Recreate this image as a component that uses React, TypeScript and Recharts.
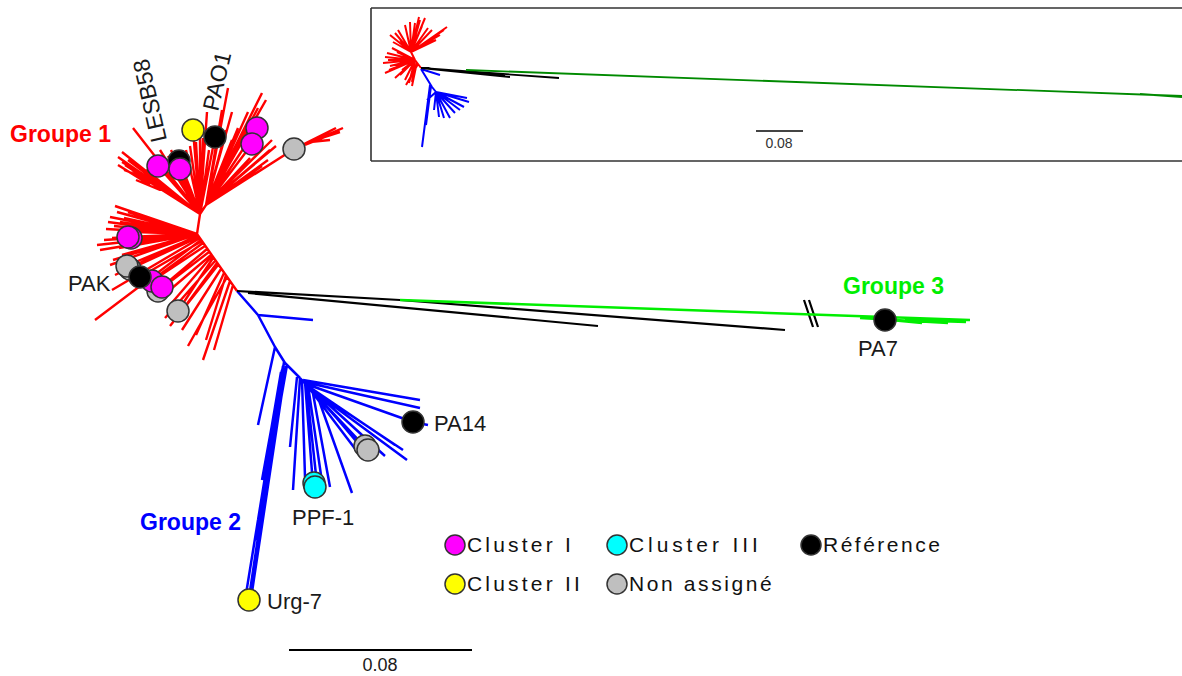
import React from 'react';
import { ComposedChart, Line, Scatter, XAxis, YAxis, Legend } from 'recharts';

const FONT = '"Liberation Sans", Arial, Helvetica, sans-serif';
const W = 1182;
const H = 676;

// ---- tree branches: [x1, y1, x2, y2] in drawing units ----
const redBranches: number[][] = [
  [237, 291, 197, 234], [197, 234, 200, 214], [200, 214, 206, 205],
  [233, 285, 214, 350], [230, 281, 203, 360], [227, 277, 188, 346], [224, 273, 196, 335],
  [221, 269, 182, 330], [218, 265, 170, 326], [215, 261, 165, 318], [213, 258, 178, 311],
  [211, 255, 158, 300], [209, 252, 158, 291], [207, 249, 162, 287], [205, 246, 152, 281],
  [203, 243, 148, 283], [202, 241, 140, 277], [201, 240, 95, 320], [200, 238, 112, 290],
  [199, 237, 130, 269], [198, 236, 126, 266], [198, 235, 115, 275], [226, 275, 206, 340],
  [217, 263, 175, 320], [212, 256, 170, 305],
  [197, 234, 128, 237], [197, 234, 113, 260], [197, 234, 97, 245], [197, 234, 115, 206],
  [197, 234, 117, 212], [197, 234, 110, 217], [197, 234, 120, 222], [197, 234, 106, 229],
  [197, 234, 125, 243], [197, 234, 100, 250], [197, 234, 118, 230], [197, 234, 130, 226],
  [197, 234, 122, 255], [197, 234, 112, 238], [197, 234, 124, 218], [197, 234, 108, 222],
  [197, 234, 114, 226], [197, 234, 104, 240], [197, 234, 119, 248], [197, 234, 135, 232],
  [197, 234, 128, 212], [197, 234, 110, 265],
  [200, 214, 118, 157], [200, 214, 122, 152], [200, 214, 128, 160], [200, 214, 140, 176],
  [200, 214, 146, 170], [200, 214, 133, 128], [200, 214, 158, 166], [200, 214, 160, 150],
  [200, 214, 168, 156], [200, 214, 174, 160], [200, 214, 179, 161], [200, 214, 180, 169],
  [200, 214, 186, 150], [200, 214, 190, 146], [200, 214, 193, 130], [200, 214, 196, 142],
  [200, 214, 200, 126], [200, 214, 207, 112], [200, 214, 215, 137], [200, 214, 209, 150],
  [200, 214, 185, 175], [200, 214, 125, 165], [200, 214, 132, 170], [200, 214, 150, 178],
  [200, 214, 164, 172], [200, 214, 171, 150], [200, 214, 203, 138],
  [150, 185, 118, 165], [160, 190, 136, 180], [135, 170, 122, 162], [145, 178, 124, 170],
  [206, 205, 228, 88], [206, 205, 262, 93], [206, 205, 266, 100], [206, 205, 257, 128],
  [206, 205, 252, 144], [206, 205, 238, 128], [206, 205, 244, 138], [206, 205, 270, 150],
  [206, 205, 276, 146], [206, 205, 268, 160], [206, 205, 262, 166], [206, 205, 294, 149],
  [206, 205, 222, 110], [206, 205, 232, 112], [206, 205, 248, 112], [206, 205, 258, 108],
  [206, 205, 232, 140], [206, 205, 226, 130], [206, 205, 250, 158], [206, 205, 272, 140],
  [294, 149, 343, 128], [300, 146, 336, 128], [310, 142, 330, 140], [305, 145, 325, 137],
  [315, 140, 340, 132],
];

const blueBranches: number[][] = [
  [237, 291, 258, 315], [258, 315, 313, 320], [258, 315, 275, 347], [275, 347, 258, 425],
  [275, 347, 285, 363], [285, 363, 300, 378],
  [284, 362, 249, 598], [283, 366, 246, 594], [286, 366, 252, 592], [282, 370, 262, 480],
  [285, 368, 258, 520], [281, 372, 266, 460], [287, 365, 256, 540],
  [297, 377, 290, 447], [300, 378, 293, 490], [302, 380, 305, 477], [305, 382, 313, 485],
  [306, 383, 317, 484], [308, 385, 322, 482], [312, 388, 330, 487], [316, 392, 352, 493],
  [300, 378, 368, 450], [302, 380, 362, 446], [306, 384, 356, 450], [308, 386, 395, 445],
  [310, 388, 403, 450], [312, 390, 407, 460], [316, 393, 385, 456], [318, 396, 372, 460],
  [303, 380, 420, 400], [304, 382, 420, 408], [306, 384, 413, 422], [413, 422, 428, 425],
];

const blackBranches: number[][] = [
  [237, 291, 400, 300], [400, 300, 785, 330], [248, 293, 598, 326],
  [804, 300, 813, 327], [809, 300, 818, 327],
];

const greenBranches: number[][] = [
  [400, 300, 970, 320], [860, 318, 948, 323], [880, 319, 922, 323], [905, 320, 966, 322],
];

// ---- inset (full tree overview) ----
const insetRed: number[][] = [
  [421, 68, 415, 60], [415, 60, 411, 52],
  [411, 52, 419, 17], [411, 52, 425, 18], [411, 52, 447, 27], [411, 52, 395, 33],
  [411, 52, 390, 35], [411, 52, 405, 25], [411, 52, 415, 23], [411, 52, 432, 30],
  [411, 52, 400, 40], [411, 52, 440, 35], [411, 52, 420, 20], [411, 52, 428, 28],
  [411, 52, 398, 30], [411, 52, 410, 22], [411, 52, 436, 40], [411, 52, 444, 30],
  [411, 52, 393, 42], [411, 52, 422, 26],
  [415, 60, 385, 57], [415, 60, 387, 53], [415, 60, 392, 48], [415, 60, 385, 73],
  [415, 60, 389, 70], [415, 60, 409, 83], [415, 60, 412, 82], [415, 60, 395, 65],
  [415, 60, 383, 63], [415, 60, 400, 75], [415, 60, 405, 80], [418, 64, 406, 85],
  [415, 60, 388, 60], [415, 60, 390, 66], [415, 60, 397, 52], [415, 60, 395, 78],
  [415, 60, 402, 70], [417, 62, 412, 86],
];
const insetBlue: number[][] = [
  [421, 69, 440, 75], [421, 69, 432, 87], [432, 87, 436, 92], [430, 85, 422, 147],
  [431, 86, 426, 125], [436, 92, 469, 102], [436, 92, 467, 98], [436, 92, 464, 107],
  [436, 92, 450, 118], [436, 92, 444, 118], [436, 92, 439, 117], [436, 92, 434, 110],
  [436, 92, 427, 100], [436, 92, 460, 110], [436, 92, 455, 113],
];
const insetBlack: number[][] = [[421, 68, 510, 77], [421, 68, 559, 78], [421, 68, 505, 76]];
const insetGreen: number[][] = [[466, 70, 1182, 96], [1140, 94, 1182, 97]];
const insetFrame: number[][] = [[371, 8, 1182, 8], [371, 8, 371, 161], [371, 161, 1182, 161]];

const scaleBars: number[][] = [[289, 650, 472, 650]];
const insetScaleBars: number[][] = [[756, 131, 803, 131]];

// ---- tips ----
const clusterI = [
  { x: 158, y: 166 }, { x: 180, y: 169 }, { x: 257, y: 128 }, { x: 252, y: 144 },
  { x: 131, y: 238 }, { x: 128, y: 237 }, { x: 152, y: 281 }, { x: 162, y: 287 },
];
const clusterII = [{ x: 193, y: 130 }, { x: 249, y: 600 }];
const clusterIII = [{ x: 314, y: 483 }, { x: 315, y: 487 }];
const referenceUnder = [{ x: 179, y: 161 }];
const reference = [{ x: 215, y: 137 }, { x: 140, y: 277 }, { x: 885, y: 320 }, { x: 413, y: 422 }];
const unassigned = [
  { x: 294, y: 149 }, { x: 130, y: 269 }, { x: 127, y: 266 }, { x: 158, y: 291 },
  { x: 178, y: 311 }, { x: 365, y: 446 }, { x: 368, y: 450 },
];

// ---- texts ----
const leafLabels = [
  { x: 68, y: 291, text: 'PAK' },
  { x: 858, y: 356, text: 'PA7' },
  { x: 434, y: 431, text: 'PA14' },
  { x: 292, y: 525, text: 'PPF-1' },
  { x: 267, y: 609, text: 'Urg-7' },
];
const labelLESB = [{ x: 167, y: 140, text: 'LESB58' }];
const labelPAO = [{ x: 218, y: 112, text: 'PAO1' }];
const group1Label = [{ x: 10, y: 142, text: 'Groupe 1' }];
const group2Label = [{ x: 140, y: 530, text: 'Groupe 2' }];
const group3Label = [{ x: 843, y: 294, text: 'Groupe 3' }];
const scaleLabels = [{ x: 380, y: 671, text: '0.08' }];
const insetScaleLabels = [{ x: 779, y: 148, text: '0.08' }];

const legendOrder = ['Cluster I', 'Cluster III', 'Référence', 'Cluster II', 'Non assigné'];
const legendSpacing: Record<string, number> = {
  'Cluster I': 3.2, 'Cluster III': 3.9, 'Référence': 2.5, 'Cluster II': 3.2, 'Non assigné': 2.6,
};

const toPath = (segs: number[][]) => {
  const out: { x: number; y: number | null }[] = [];
  segs.forEach(([x1, y1, x2, y2]) => {
    out.push({ x: x1, y: y1 }, { x: x2, y: y2 }, { x: x2, y: null });
  });
  return out;
};

const Tip = (props: any) => {
  const { cx, cy, fill } = props;
  if (cx == null || cy == null) return null;
  return <circle cx={cx} cy={cy} r={11} fill={fill} stroke="#333" strokeWidth={1.5} />;
};

const makeText = (opts: { size: number; color: string; weight?: string; anchor?: string; angle?: number }) =>
  (props: any) => {
    const { cx, cy, payload } = props;
    if (cx == null || cy == null) return null;
    return (
      <text
        x={cx}
        y={cy}
        fontFamily={FONT}
        fontSize={opts.size}
        fontWeight={opts.weight || 'normal'}
        fill={opts.color}
        textAnchor={opts.anchor || 'start'}
        transform={opts.angle ? `rotate(${opts.angle} ${cx} ${cy})` : undefined}
      >
        {payload.text}
      </text>
    );
  };

const LegendContent = (props: any) => {
  const items = (props.payload || []).filter((p: any) => legendOrder.includes(p.value));
  items.sort((a: any, b: any) => legendOrder.indexOf(a.value) - legendOrder.indexOf(b.value));
  return (
    <div style={{ display: 'grid', gridTemplateColumns: '162px 194px auto', gridAutoRows: '39px' }}>
      {items.map((it: any) => (
        <div key={it.value} style={{ display: 'flex', alignItems: 'center' }}>
          <svg width={22} height={22} style={{ display: 'block' }}>
            <circle cx={11} cy={11} r={10} fill={it.color} stroke="#333" strokeWidth={1.5} />
          </svg>
          <span
            style={{
              marginLeft: 1,
              fontFamily: FONT,
              fontSize: 21,
              color: '#111',
              letterSpacing: legendSpacing[it.value] ?? 2.5,
              whiteSpace: 'nowrap',
            }}
          >
            {it.value}
          </span>
        </div>
      ))}
    </div>
  );
};

const branchLine = (key: string, segs: number[][], color: string, width: number) => (
  <Line
    key={key}
    data={toPath(segs)}
    dataKey="y"
    type="linear"
    stroke={color}
    strokeWidth={width}
    dot={false}
    activeDot={false}
    connectNulls={false}
    isAnimationActive={false}
    legendType="none"
  />
);

export default function App() {
  return (
    <div style={{ position: 'absolute', left: 0, top: 0, width: W, height: H, background: '#fff' }}>
      <ComposedChart width={W} height={H} margin={{ top: 0, right: 0, bottom: 0, left: 0 }}>
        <XAxis type="number" dataKey="x" domain={[0, W]} allowDataOverflow hide />
        <YAxis type="number" dataKey="y" domain={[0, H]} allowDataOverflow reversed hide />
        {branchLine('frame', insetFrame, '#333', 1.6)}
        {branchLine('ired', insetRed, '#ff0000', 2)}
        {branchLine('iblue', insetBlue, '#0000ff', 2)}
        {branchLine('iblack', insetBlack, '#000', 1.8)}
        {branchLine('igreen', insetGreen, '#008a00', 1.8)}
        {branchLine('iscale', insetScaleBars, '#444', 2)}
        {branchLine('red', redBranches, '#ff0000', 2.4)}
        {branchLine('blue', blueBranches, '#0000ff', 2.5)}
        {branchLine('black', blackBranches, '#000', 2.2)}
        {branchLine('green', greenBranches, '#00ee00', 2.6)}
        {branchLine('scale', scaleBars, '#000', 2.2)}
        <Scatter name="Non assigné" data={unassigned} fill="#bfbfbf" shape={Tip} isAnimationActive={false} />
        <Scatter name="Référence (dessous)" data={referenceUnder} fill="#000" shape={Tip} isAnimationActive={false} legendType="none" />
        <Scatter name="Cluster I" data={clusterI} fill="#ff00ff" shape={Tip} isAnimationActive={false} />
        <Scatter name="Référence" data={reference} fill="#000" shape={Tip} isAnimationActive={false} />
        <Scatter name="Cluster II" data={clusterII} fill="#ffff00" shape={Tip} isAnimationActive={false} />
        <Scatter name="Cluster III" data={clusterIII} fill="#00ffff" shape={Tip} isAnimationActive={false} />
        <Scatter data={leafLabels} shape={makeText({ size: 22, color: '#1a1a1a' })} isAnimationActive={false} legendType="none" />
        <Scatter data={labelLESB} shape={makeText({ size: 23, color: '#1a1a1a', angle: -103 })} isAnimationActive={false} legendType="none" />
        <Scatter data={labelPAO} shape={makeText({ size: 23, color: '#1a1a1a', angle: -77 })} isAnimationActive={false} legendType="none" />
        <Scatter data={group1Label} shape={makeText({ size: 23, color: '#ff0000', weight: 'bold' })} isAnimationActive={false} legendType="none" />
        <Scatter data={group2Label} shape={makeText({ size: 23, color: '#0000ff', weight: 'bold' })} isAnimationActive={false} legendType="none" />
        <Scatter data={group3Label} shape={makeText({ size: 23, color: '#00ee00', weight: 'bold' })} isAnimationActive={false} legendType="none" />
        <Scatter data={scaleLabels} shape={makeText({ size: 18, color: '#1a1a1a', anchor: 'middle' })} isAnimationActive={false} legendType="none" />
        <Scatter data={insetScaleLabels} shape={makeText({ size: 14, color: '#333', anchor: 'middle' })} isAnimationActive={false} legendType="none" />
        <Legend
          layout="horizontal"
          verticalAlign="middle"
          align="center"
          content={LegendContent}
          wrapperStyle={{ left: 444, top: 525, width: 540 }}
        />
      </ComposedChart>
    </div>
  );
}
